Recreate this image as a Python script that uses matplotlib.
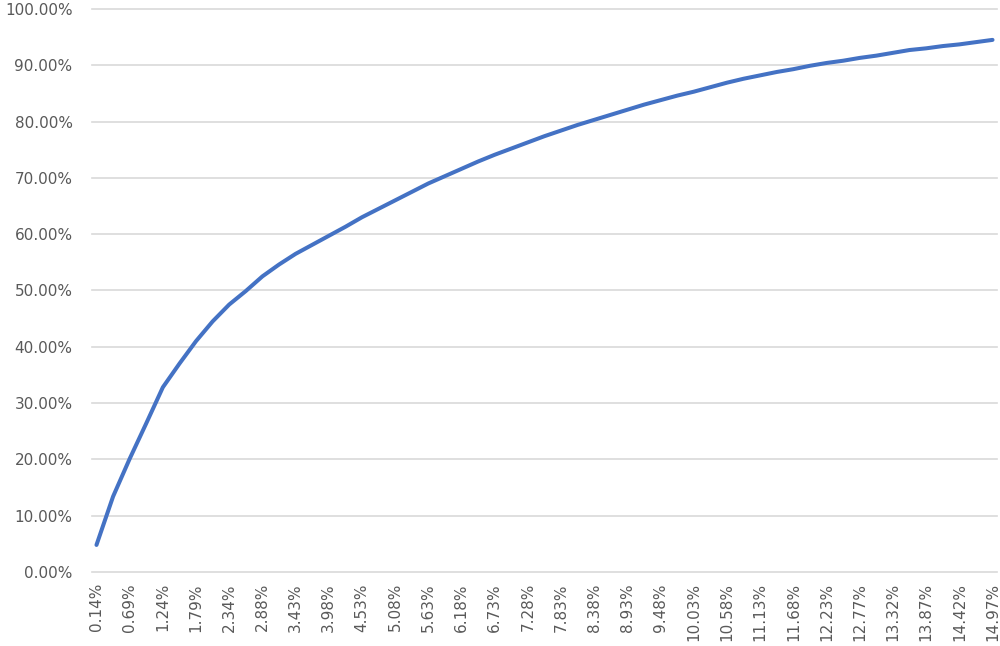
import matplotlib.pyplot as plt
import numpy as np

# category labels shown on the x axis (every 4th category)
tick_labels = ["0.14%", "0.69%", "1.24%", "1.79%", "2.34%", "2.88%", "3.43%",
               "3.98%", "4.53%", "5.08%", "5.63%", "6.18%", "6.73%", "7.28%",
               "7.83%", "8.38%", "8.93%", "9.48%", "10.03%", "10.58%", "11.13%",
               "11.68%", "12.23%", "12.77%", "13.32%", "13.87%", "14.42%", "14.97%"]

# cumulative share (%), read at every label and halfway between labels
cum_share = [4.8, 13.4, 20.1, 26.4, 32.8, 37.0, 41.0, 44.5, 47.5, 49.9,
             52.5, 54.6, 56.5, 58.1, 59.7, 61.3, 63.0, 64.5, 66.0, 67.5,
             69.0, 70.3, 71.6, 72.9, 74.1, 75.2, 76.3, 77.4, 78.4, 79.4,
             80.3, 81.2, 82.1, 83.0, 83.8, 84.6, 85.3, 86.1, 86.9, 87.6,
             88.2, 88.8, 89.3, 89.9, 90.4, 90.8, 91.3, 91.7, 92.2, 92.7,
             93.0, 93.4, 93.7, 94.1, 94.5]

y_ticks = np.arange(0, 101, 10)

fig = plt.figure(figsize=(10, 6.46), dpi=100)
ax = fig.add_axes([0.092, 0.1146, 0.905, 0.8716])

xpos = np.arange(len(cum_share))
ax.plot(xpos, cum_share, color="#4472C4", lw=2.9, solid_capstyle="round",
        solid_joinstyle="round", zorder=3)

ax.set_xlim(-0.27, len(cum_share) - 1 + 0.27)
ax.set_ylim(0, 100)

ax.set_xticks(xpos[::2])
ax.set_xticklabels(tick_labels, rotation=90, va="top", ha="center")
ax.set_yticks(y_ticks)
ax.set_yticklabels(["%.2f%%" % v for v in y_ticks])

for s in ax.spines.values():
    s.set_visible(False)
ax.grid(axis="y", color="#d9d9d9", lw=1.2, clip_on=False)
ax.set_axisbelow(True)
ax.tick_params(axis="both", length=0, labelsize=11, colors="#595959")
ax.tick_params(axis="y", pad=14)
ax.tick_params(axis="x", pad=8)

fig.savefig("out.png", dpi=100, facecolor="white")
